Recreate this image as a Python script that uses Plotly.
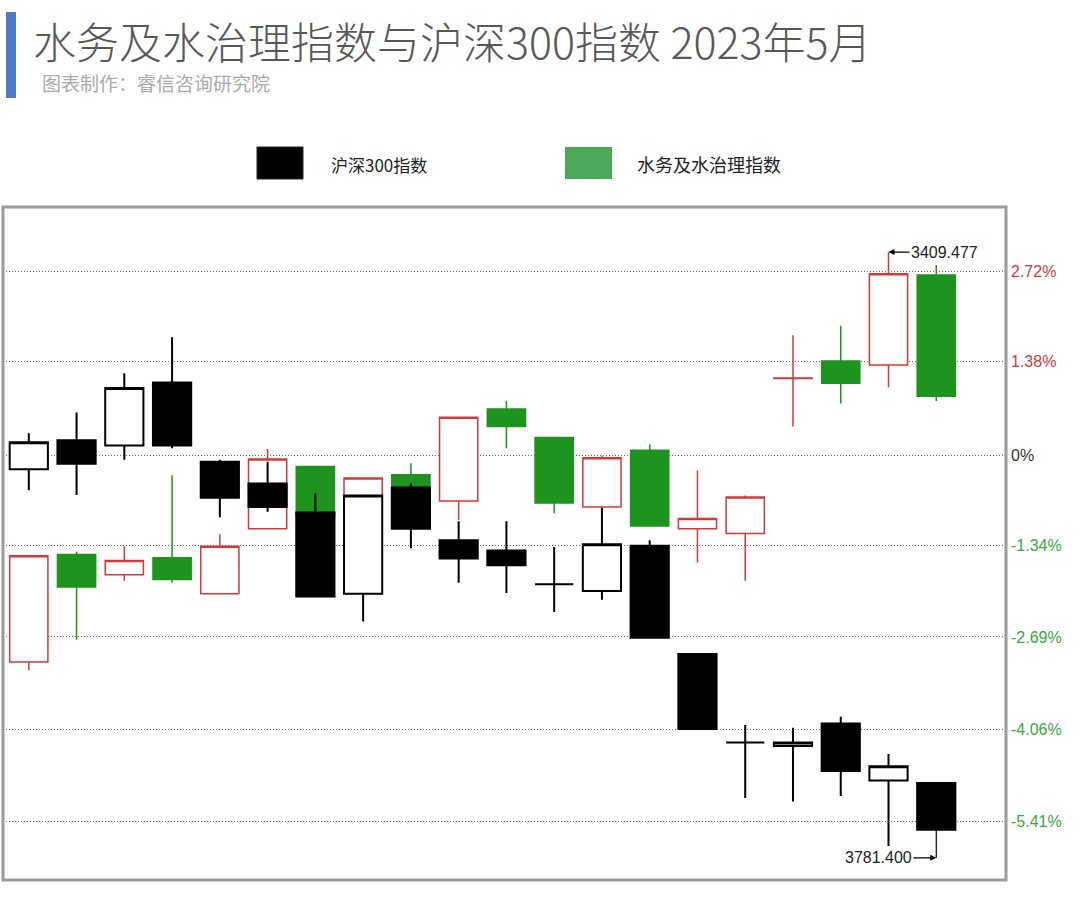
import plotly.graph_objects as go

# ---------------- data (percent change vs. base) ----------------
dates = ["05-04", "05-05", "05-08", "05-09", "05-10", "05-11", "05-12", "05-15", "05-16", "05-17",
         "05-18", "05-19", "05-22", "05-23", "05-24", "05-25", "05-26", "05-29", "05-30", "05-31"]

hs300_open = [-0.21, 0.22, 0.14, 1.07, -0.10, -0.42, -0.85, -2.05, -0.48, -1.26,
              -1.41, -1.91, -2.01, -1.34, -2.94, -4.25, -4.30, -3.97, -4.81, -4.85]
hs300_close = [0.19, -0.13, 0.99, 0.14, -0.63, -0.77, -2.09, -0.60, -1.09, -1.53,
               -1.63, -1.91, -1.32, -2.70, -4.05, -4.25, -4.25, -4.67, -4.60, -5.54]
hs300_high = [0.32, 0.63, 1.21, 1.74, -0.07, -0.10, -0.57, -0.60, -0.42, -0.98,
              -0.98, -1.36, -0.78, -1.26, -2.94, -3.99, -4.03, -3.87, -4.42, -4.85]
hs300_low = [-0.52, -0.59, -0.07, 0.10, -0.92, -0.84, -2.09, -2.46, -1.38, -1.89,
             -2.04, -2.32, -2.14, -2.70, -4.05, -5.07, -5.12, -5.04, -5.78, -5.54]

water_open = [-3.06, -1.47, -1.77, -1.52, -2.05, -1.09, -0.17, -0.65, -0.29, -0.68,
              0.68, 0.26, -0.77, 0.07, -1.09, -1.16, 1.13, 1.39, 1.33, 2.66]
water_close = [-1.49, -1.95, -1.56, -1.84, -1.35, -0.06, -0.90, -0.34, -0.48, 0.56,
               0.42, -0.71, -0.04, -1.05, -0.94, -0.62, 1.14, 1.06, 2.68, 0.87]
water_high = [-1.49, -1.43, -1.35, -0.30, -1.17, 0.09, -0.17, -0.34, -0.12, 0.56,
              0.80, 0.26, -0.01, 0.16, -0.23, -0.60, 1.77, 1.91, 3.00, 2.81]
water_low = [-3.18, -2.73, -1.86, -1.89, -2.05, -1.09, -0.90, -0.65, -0.48, -0.96,
             0.10, -0.86, -0.77, -1.05, -1.59, -1.86, 0.42, 0.76, 1.00, 0.80]

tick_vals = [2.72, 1.38, 0, -1.34, -2.69, -4.06, -5.41]
tick_labels = ["2.72%", "1.38%", "0%", "-1.34%", "-2.69%", "-4.06%", "-5.41%"]

high_label = "3409.477"
low_label = "3781.400"

series_names = ["沪深300指数", "水务及水治理指数"]
title_text = "水务及水治理指数与沪深300指数 2023年5月"
subtitle_text = "图表制作：睿信咨询研究院"

# ---------------- styling ----------------
W, H = 1080, 900
ML, MR, MT, MB = 3, 74, 207, 20
PW, PH = W - ML - MR, H - MT - MB

RED = "#d23a3a"
GREEN = "#1e941e"
LEG_GREEN = "#4aa858"
TICK_RED = "#d6393d"
TICK_GREEN = "#3aa845"


def px(x):
    return (x - ML) / PW


def py(y):
    return (H - MB - y) / PH


def tick_color(v):
    if v > 0:
        return TICK_RED
    if v < 0:
        return TICK_GREEN
    return "#333333"


tick_text = [f'<span style="color:{tick_color(v)}">{t}</span>' for v, t in zip(tick_vals, tick_labels)]

fig = go.Figure()

fig.add_trace(go.Candlestick(
    x=dates, open=water_open, high=water_high, low=water_low, close=water_close,
    name=series_names[1],
    increasing=dict(line=dict(color=RED, width=1.5), fillcolor="white"),
    decreasing=dict(line=dict(color=GREEN, width=1.5), fillcolor=GREEN),
    whiskerwidth=0, showlegend=False, hoverinfo="skip",
))

fig.add_trace(go.Candlestick(
    x=dates, open=hs300_open, high=hs300_high, low=hs300_low, close=hs300_close,
    name=series_names[0],
    increasing=dict(line=dict(color="black", width=2), fillcolor="white"),
    decreasing=dict(line=dict(color="black", width=2), fillcolor="black"),
    whiskerwidth=0, showlegend=False, hoverinfo="skip",
))

shapes = [
    # plot border
    dict(type="rect", xref="paper", yref="paper", x0=0, x1=1, y0=0, y1=1,
         line=dict(color="#9a9a9a", width=3), fillcolor="rgba(0,0,0,0)", layer="above"),
    # blue title bar
    dict(type="rect", xref="paper", yref="paper", x0=px(6), x1=px(16), y0=py(98), y1=py(12),
         line=dict(width=0), fillcolor="#4d7cc3"),
    # legend swatches
    dict(type="rect", xref="paper", yref="paper", x0=px(257), x1=px(303), y0=py(179), y1=py(147),
         line=dict(color="#222", width=1), fillcolor="black"),
    dict(type="rect", xref="paper", yref="paper", x0=px(565), x1=px(612), y0=py(179), y1=py(147),
         line=dict(width=0), fillcolor=LEG_GREEN),
    # connector from lowest candle to its label
    dict(type="line", xref="x", yref="y", x0=dates[-1], x1=dates[-1],
         ysizemode="pixel", yanchor=hs300_low[-1], y0=0, y1=-28,
         line=dict(color="black", width=1.2)),
]

annotations = [
    dict(xref="paper", yref="paper", x=px(31), y=py(40), xanchor="left", yanchor="middle",
         text=title_text, showarrow=False,
         font=dict(family="Noto Sans CJK SC", size=43, color="#585858", weight=300)),
    dict(xref="paper", yref="paper", x=px(40), y=py(83), xanchor="left", yanchor="middle",
         text=subtitle_text, showarrow=False,
         font=dict(family="Noto Sans CJK SC", size=19, color="#aaaaaa")),
    dict(xref="paper", yref="paper", x=px(329), y=py(164), xanchor="left", yanchor="middle",
         text=series_names[0], showarrow=False,
         font=dict(family="Noto Sans CJK SC", size=17, color="#222")),
    dict(xref="paper", yref="paper", x=px(635), y=py(164), xanchor="left", yanchor="middle",
         text=series_names[1], showarrow=False,
         font=dict(family="Noto Sans CJK SC", size=18, color="#222")),
    dict(x=dates[18], y=water_high[18], xref="x", yref="y", text=high_label,
         showarrow=True, arrowhead=2, arrowsize=1, arrowwidth=1.2, arrowcolor="black",
         ax=56, ay=0, font=dict(family="Liberation Sans, Arial", size=16, color="#222")),
    dict(x=dates[19], y=hs300_low[19], xref="x", yref="y", yshift=-28, text=low_label,
         showarrow=True, arrowhead=2, arrowsize=1, arrowwidth=1.2, arrowcolor="black",
         ax=-58, ay=0, font=dict(family="Liberation Sans, Arial", size=16, color="#222")),
]

fig.update_layout(
    width=W, height=H,
    margin=dict(l=ML, r=MR, t=MT, b=MB),
    paper_bgcolor="white", plot_bgcolor="white",
    boxgap=0.2, boxgroupgap=0, boxmode="overlay",
    shapes=shapes, annotations=annotations,
    showlegend=False,
    xaxis=dict(type="category", range=[-0.54, 20.46], showticklabels=False, showgrid=False,
               zeroline=False, showline=False, ticks="", rangeslider=dict(visible=False),
               fixedrange=True),
    yaxis=dict(range=[-6.282, 3.666], side="right", tickvals=tick_vals, ticktext=tick_text,
               showgrid=True, gridcolor="#6a6a6a", griddash="1px,2px", gridwidth=1,
               zeroline=False, showline=False, ticks="", ticklabelstandoff=4,
               tickfont=dict(family="Liberation Sans, Arial", size=16), fixedrange=True),
)

fig.write_html("out.html", config={"displayModeBar": False},
               post_script="document.body.style.margin='0px';")
